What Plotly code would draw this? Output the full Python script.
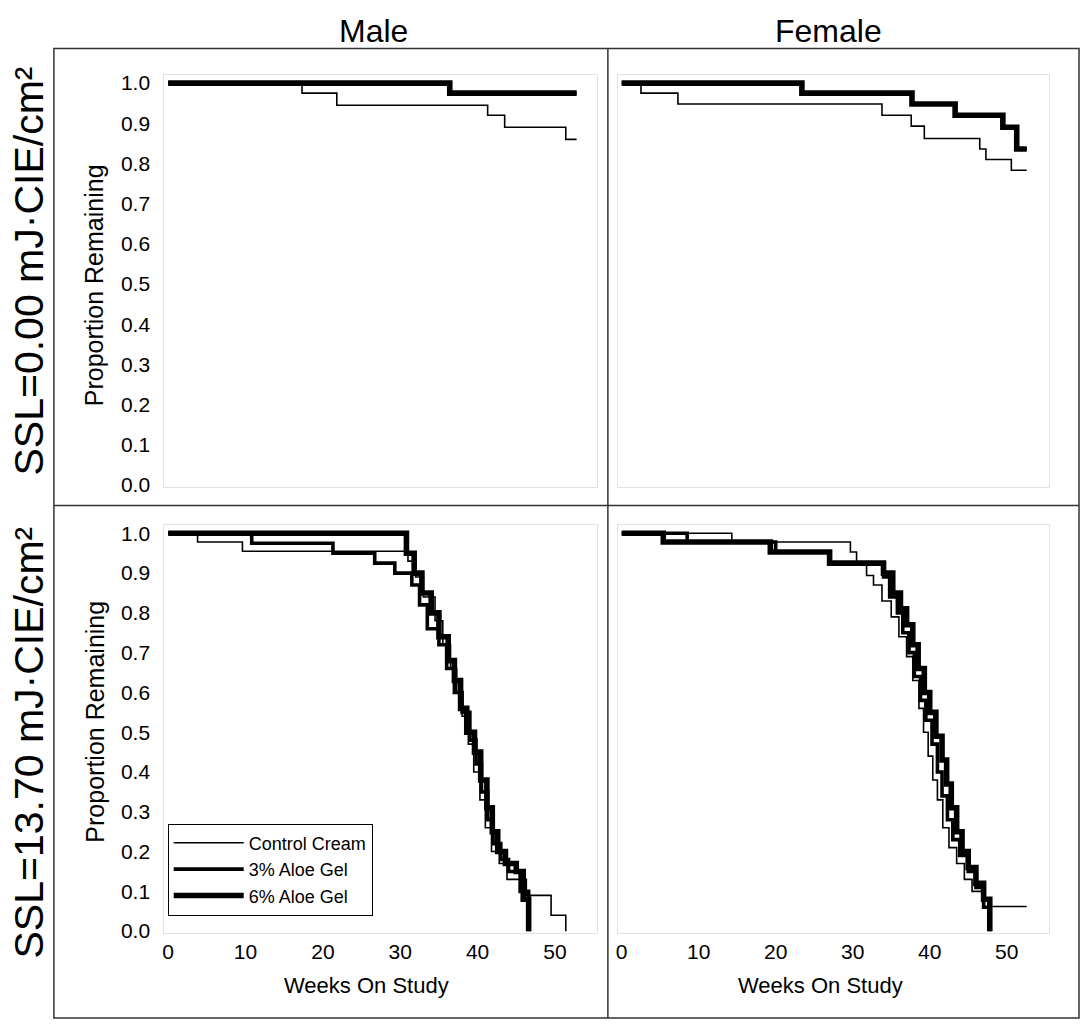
import plotly.graph_objects as go

# ---------------- data (weeks on study, proportion remaining) ----------------
series_names = ["Control Cream", "3% Aloe Gel", "6% Aloe Gel"]
column_titles = ["Male", "Female"]
row_titles = ["SSL=0.00 mJ·CIE/cm²", "SSL=13.70 mJ·CIE/cm²"]
x_ticks = [0, 10, 20, 30, 40, 50]
y_ticks = [0.0, 0.1, 0.2, 0.3, 0.4, 0.5, 0.6, 0.7, 0.8, 0.9, 1.0]

# Male, SSL = 0.00
m0_ctrl_t = [0, 17.3, 21.8, 41.3, 43.5, 51.4, 52.8]
m0_ctrl_s = [1.0, 0.975, 0.945, 0.92, 0.89, 0.86, 0.86]
m0_a3_t = [0, 36.4, 52.8]
m0_a3_s = [1.0, 0.975, 0.975]
m0_a6_t = [0, 36.4, 52.8]
m0_a6_s = [1.0, 0.975, 0.975]

# Female, SSL = 0.00
f0_ctrl_t = [0, 2.5, 7.3, 33.8, 37.6, 39.3, 46.5, 47.3, 50.6, 52.6]
f0_ctrl_s = [1.0, 0.975, 0.948, 0.92, 0.893, 0.862, 0.836, 0.81, 0.783, 0.783]
f0_a3_t = [0, 23.4, 37.7, 43.3, 49.5, 51.3, 52.6]
f0_a3_s = [1.0, 0.975, 0.948, 0.92, 0.89, 0.836, 0.836]
f0_a6_t = [0, 23.4, 37.7, 43.3, 49.5, 51.3, 52.6]
f0_a6_s = [1.0, 0.975, 0.948, 0.92, 0.89, 0.836, 0.836]

# Male, SSL = 13.70
m1_ctrl_t = [0, 3.8, 9.6, 31.0, 32.0, 33.0, 34.5, 35.5, 36.5, 37.3, 38.0, 38.8,
             39.5, 40.3, 41.0, 41.8, 42.8, 43.8, 46.3, 49.5, 51.4]
m1_ctrl_s = [1.0, 0.978, 0.955, 0.93, 0.89, 0.84, 0.78, 0.72, 0.66, 0.60, 0.54, 0.47,
             0.40, 0.33, 0.26, 0.20, 0.17, 0.13, 0.09, 0.04, 0.0]
m1_a3_t = [0, 10.8, 21.3, 26.7, 29.3, 31.5, 32.5, 33.5, 35.0, 36.0, 37.0, 38.0,
           39.0, 39.8, 40.5, 41.3, 42.0, 43.0, 44.0, 45.5, 46.6]
m1_a3_s = [1.0, 0.975, 0.95, 0.925, 0.90, 0.87, 0.82, 0.76, 0.72, 0.66, 0.60, 0.55,
           0.48, 0.42, 0.35, 0.28, 0.22, 0.18, 0.15, 0.10, 0.0]
m1_a6_t = [0, 30.8, 31.8, 32.8, 34.0, 35.0, 36.2, 37.0, 37.8, 38.6, 39.6, 40.4,
           41.2, 41.9, 42.6, 43.6, 45.0, 45.9, 46.6]
m1_a6_s = [1.0, 0.95, 0.90, 0.85, 0.80, 0.74, 0.68, 0.63, 0.56, 0.50, 0.45, 0.38,
           0.31, 0.25, 0.20, 0.17, 0.15, 0.08, 0.0]

# Female, SSL = 13.70
f1_ctrl_t = [0, 14.3, 29.7, 30.5, 31.8, 32.7, 33.8, 35.0, 36.0, 37.0, 37.8, 38.6,
             39.2, 39.8, 40.4, 41.0, 41.7, 42.5, 43.5, 44.5, 45.5, 46.8, 47.8, 52.6]
f1_ctrl_s = [1.0, 0.978, 0.953, 0.928, 0.894, 0.87, 0.83, 0.79, 0.74, 0.69, 0.63, 0.56,
             0.50, 0.44, 0.38, 0.33, 0.26, 0.21, 0.17, 0.13, 0.10, 0.08, 0.062, 0.062]
f1_a3_t = [0, 8.5, 20.0, 27.0, 34.0, 34.8, 35.8, 36.5, 37.3, 38.0, 38.8, 39.5,
           40.3, 41.0, 41.6, 42.3, 43.0, 43.9, 45.0, 46.0, 47.0, 47.8]
f1_a3_s = [1.0, 0.978, 0.953, 0.925, 0.89, 0.84, 0.80, 0.75, 0.70, 0.64, 0.58, 0.53,
           0.47, 0.40, 0.34, 0.28, 0.23, 0.19, 0.15, 0.11, 0.06, 0.0]
f1_a6_t = [0, 5.4, 19.3, 27.0, 34.0, 35.2, 36.2, 37.0, 37.8, 38.5, 39.3, 40.0,
           40.8, 41.6, 42.2, 42.8, 43.5, 44.2, 45.0, 46.0, 47.0, 47.8]
f1_a6_s = [1.0, 0.978, 0.953, 0.925, 0.90, 0.85, 0.81, 0.77, 0.72, 0.66, 0.60, 0.55,
           0.49, 0.43, 0.37, 0.31, 0.25, 0.20, 0.16, 0.12, 0.08, 0.0]

panels = [  # (axis suffix, [(t, s) per series])
    ("", [(m0_ctrl_t, m0_ctrl_s), (m0_a3_t, m0_a3_s), (m0_a6_t, m0_a6_s)]),
    ("2", [(f0_ctrl_t, f0_ctrl_s), (f0_a3_t, f0_a3_s), (f0_a6_t, f0_a6_s)]),
    ("3", [(m1_ctrl_t, m1_ctrl_s), (m1_a3_t, m1_a3_s), (m1_a6_t, m1_a6_s)]),
    ("4", [(f1_ctrl_t, f1_ctrl_s), (f1_a3_t, f1_a3_s), (f1_a6_t, f1_a6_s)]),
]

# ---------------- styling ----------------
W, H = 1081, 1030
FONT = "Liberation Sans, Arial, sans-serif"
widths = [1.6, 3.6, 5.6]


def px_x(p):
    return p / W


def px_y(p):
    return 1 - p / H


fig = go.Figure()
for k, (suf, data) in enumerate(panels):
    for i, (t, s) in enumerate(data):
        fig.add_trace(go.Scatter(
            x=t, y=s, mode="lines", line=dict(color="black", width=widths[i], shape="hv"),
            name=series_names[i], showlegend=(k == 2), legendrank=i,
            xaxis="x" + suf, yaxis="y" + suf, hoverinfo="skip"))

xdom_left = [px_x(162.6), px_x(596.6)]
xdom_right = [px_x(617.0), px_x(1049.0)]
ydom_top = [px_y(489), px_y(72)]
ydom_bot = [px_y(941), px_y(528)]

axis_common = dict(showgrid=False, zeroline=False, showline=True, linecolor="#e2e2e2",
                   linewidth=1, mirror=True)
xr = [-0.5, 55.5]
yr = [-0.005, 1.02]

layout_axes = {}
specs = [("", xdom_left, ydom_top, False, True),
         ("2", xdom_right, ydom_top, False, False),
         ("3", xdom_left, ydom_bot, True, True),
         ("4", xdom_right, ydom_bot, True, False)]
for suf, xd, yd, showx, showy in specs:
    layout_axes["xaxis" + suf] = dict(
        axis_common, domain=xd, range=xr, anchor="y" + suf, tickvals=x_ticks,
        showticklabels=showx, ticks="", tickfont=dict(size=21, family=FONT, color="black"))
    layout_axes["yaxis" + suf] = dict(
        axis_common, domain=yd, range=yr, anchor="x" + suf, tickvals=y_ticks,
        ticktext=[f"{v:.1f}" for v in y_ticks], showticklabels=showy,
        ticks="outside", ticklen=9, tickcolor="rgba(0,0,0,0)",
        tickfont=dict(size=21, family=FONT, color="black"))

fig.update_layout(**layout_axes)

annotations = []
# column titles
for xc, txt in [(372, column_titles[0]), (828, column_titles[1])]:
    annotations.append(dict(x=px_x(xc), y=px_y(27), xref="paper", yref="paper", text=txt,
                            showarrow=False, font=dict(size=32, family=FONT, color="black"),
                            xanchor="center", yanchor="middle"))
# row titles
for yc, txt in [(270, row_titles[0]), (748, row_titles[1])]:
    annotations.append(dict(x=px_x(27), y=px_y(yc), xref="paper", yref="paper", text=txt,
                            textangle=-90, showarrow=False,
                            font=dict(size=41, family=FONT, color="black"),
                            xanchor="center", yanchor="middle"))
# y axis titles
for yc in [285, 727]:
    annotations.append(dict(x=px_x(93), y=px_y(yc), xref="paper", yref="paper",
                            text="Proportion Remaining", textangle=-90, showarrow=False,
                            font=dict(size=25, family=FONT, color="black"),
                            xanchor="center", yanchor="middle"))
# x axis titles
for xc in [365, 820]:
    annotations.append(dict(x=px_x(xc), y=px_y(994), xref="paper", yref="paper",
                            text="Weeks On Study", showarrow=False,
                            font=dict(size=22, family=FONT, color="black"),
                            xanchor="center", yanchor="middle"))

shapes = [
    dict(type="rect", xref="paper", yref="paper", x0=px_x(52), x1=px_x(1079),
         y0=px_y(1027), y1=px_y(45), line=dict(color="#333", width=1.5)),
    dict(type="line", xref="paper", yref="paper", x0=px_x(607), x1=px_x(607),
         y0=px_y(1027), y1=px_y(45), line=dict(color="#333", width=1.5)),
    dict(type="line", xref="paper", yref="paper", x0=px_x(52), x1=px_x(1079),
         y0=px_y(508), y1=px_y(508), line=dict(color="#333", width=1.5)),
]

fig.update_layout(
    width=W, height=H, margin=dict(l=0, r=0, t=0, b=0),
    paper_bgcolor="white", plot_bgcolor="white",
    font=dict(family=FONT, color="black"),
    annotations=annotations, shapes=shapes,
    legend=dict(x=px_x(166), y=px_y(830), xanchor="left", yanchor="top",
                bordercolor="black", borderwidth=1, bgcolor="white",
                font=dict(size=18, family=FONT, color="black"),
                itemwidth=70, tracegroupgap=0),
)

fig.write_html(
    "out.html",
    config={"displayModeBar": False},
    post_script="document.body.style.margin='0';document.body.style.overflow='hidden';",
)
